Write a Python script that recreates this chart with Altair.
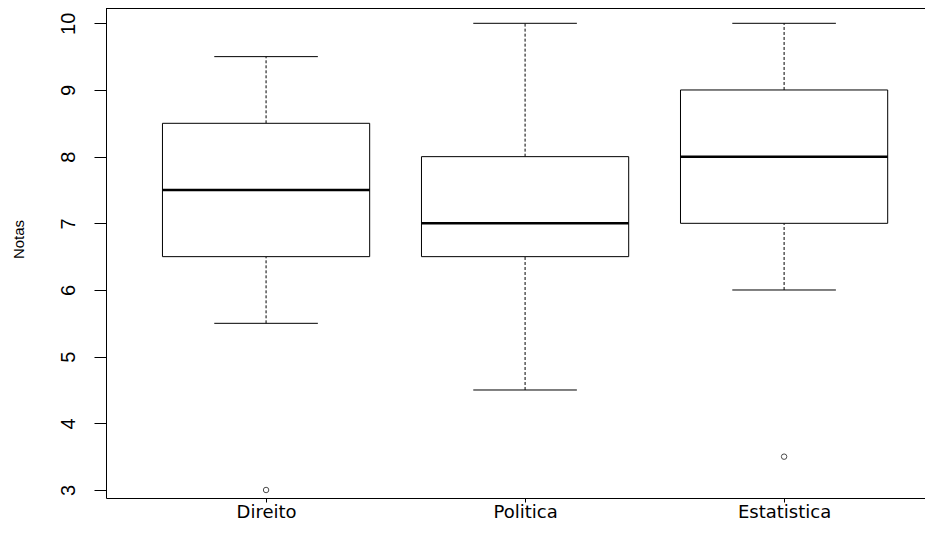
import altair as alt
import pandas as pd

categories = ["Direito", "Politica", "Estatistica"]
mins = [5.5, 4.5, 6.0]
q1s = [6.5, 6.5, 7.0]
medians = [7.5, 7.0, 8.0]
q3s = [8.5, 8.0, 9.0]
maxs = [9.5, 10.0, 10.0]
outlier_cats = ["Direito", "Estatistica"]
outlier_vals = [3.0, 3.5]
y_ticks = [3, 4, 5, 6, 7, 8, 9, 10]

BOX_HALF = 0.4
CAP_HALF = 0.2

pos = [i + 1 for i in range(len(categories))]
df = pd.DataFrame({
    "cat": categories,
    "pos": pos,
    "lo": [p - BOX_HALF for p in pos],
    "hi": [p + BOX_HALF for p in pos],
    "clo": [p - CAP_HALF for p in pos],
    "chi": [p + CAP_HALF for p in pos],
    "min": mins, "q1": q1s, "med": medians, "q3": q3s, "max": maxs,
})
out_df = pd.DataFrame({
    "pos": [categories.index(c) + 1 for c in outlier_cats],
    "val": outlier_vals,
})

label_expr = "[" + ",".join("'%s'" % c for c in categories) + "][datum.value - 1]"

W, H = 819, 490
xscale = alt.Scale(domain=[0.382, 3.544], nice=False, zero=False)
yscale = alt.Scale(domain=[2.88, 10.2295], nice=False, zero=False)

xaxis = alt.Axis(values=pos, labelExpr=label_expr, title=None, grid=False,
                 tickSize=4, tickColor="black", domainColor="black",
                 labelColor="black", labelFont="DejaVu Sans", labelFontSize=18,
                 labelPadding=1, labelAngle=0)
yaxis = alt.Axis(values=y_ticks, format="d", title="Notas", grid=False, tickSize=12,
                 tickColor="black", domainColor="black", labelColor="black",
                 labelFont="Liberation Sans", labelFontSize=20,
                 labelAngle=-90, labelAlign="center", labelBaseline="alphabetic",
                 labelPadding=20, titleFont="Liberation Sans", titleFontSize=15,
                 titleFontWeight="normal", titleColor="black", titleAngle=-90,
                 titleAlign="center", titleBaseline="alphabetic",
                 titleX=-83, titleY=231)

base = alt.Chart(df)

upper_whisker = base.mark_rule(color="black", strokeWidth=1, strokeDash=[3, 2]).encode(
    x=alt.X("pos:Q", scale=xscale, axis=xaxis),
    y=alt.Y("q3:Q", scale=yscale, axis=yaxis),
    y2="max:Q",
)
lower_whisker = base.mark_rule(color="black", strokeWidth=1, strokeDash=[3, 2]).encode(
    x="pos:Q", y="min:Q", y2="q1:Q",
)
upper_cap = base.mark_rule(color="black", strokeWidth=1).encode(
    x="clo:Q", x2="chi:Q", y="max:Q",
)
lower_cap = base.mark_rule(color="black", strokeWidth=1).encode(
    x="clo:Q", x2="chi:Q", y="min:Q",
)
boxes = base.mark_rect(fill="white", stroke="black", strokeWidth=1).encode(
    x="lo:Q", x2="hi:Q", y="q1:Q", y2="q3:Q",
)
median_line = base.mark_rule(color="black", strokeWidth=2.5).encode(
    x="lo:Q", x2="hi:Q", y="med:Q",
)
outliers = alt.Chart(out_df).mark_point(shape="circle", filled=False, color="black",
                                        size=30, strokeWidth=1).encode(
    x="pos:Q", y="val:Q",
)
top_frame = alt.Chart(df).mark_rule(color="black", strokeWidth=1).encode(
    x=alt.value(0), x2=alt.value(W), y=alt.value(0.5),
)

chart = alt.layer(
    upper_whisker, lower_whisker, upper_cap, lower_cap, boxes, median_line,
    outliers, top_frame,
).properties(
    width=W, height=H,
    autosize=alt.AutoSizeParams(type="none"),
    padding={"left": 98, "top": 0, "right": 0, "bottom": 24},
    background="white",
).configure_view(stroke=None).configure_axisY(
    titleFont="Liberation Sans", titleFontSize=15, titleFontWeight="normal",
    titleColor="black",
)

chart.save("out.html", embed_options={"renderer": "svg", "actions": False})
